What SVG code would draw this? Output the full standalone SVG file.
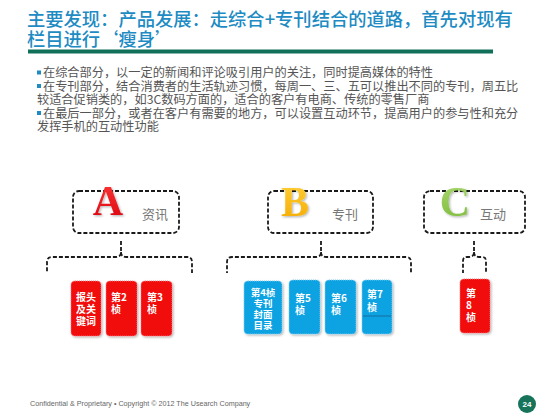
<svg xmlns="http://www.w3.org/2000/svg" width="558" height="419" viewBox="0 0 558 419">
<defs>
<style>
.title{font-family:"Noto Sans CJK SC","Noto Sans",sans-serif;font-size:18.3px;fill:#1E8BC3;font-weight:500}
.body{font-family:"Noto Sans CJK SC","Noto Sans",sans-serif;font-size:12.2px;fill:#555}
.box{fill:#fff;stroke:#1a1a1a;stroke-width:1.8;stroke-dasharray:4 2}
.brace{fill:none;stroke:#1a1a1a;stroke-width:1.8;stroke-dasharray:4 2}
.big{font-family:"Liberation Serif",serif;font-size:42px;font-weight:bold}
.lab{font-family:"Noto Sans CJK SC",sans-serif;font-size:13px;fill:#777}
.red{fill:#F2070D;stroke:#ff8080;stroke-width:1;stroke-dasharray:1 1}
.blue{fill:#0EA3E3;stroke:#7fd0f2;stroke-width:1;stroke-dasharray:1 1}
.ct{font-family:"Noto Sans CJK SC",sans-serif;font-size:10px;font-weight:bold;fill:#fff}
.ct4{font-family:"Noto Sans CJK SC",sans-serif;font-size:9.5px;font-weight:bold;fill:#fff}
.foot{font-family:"Liberation Sans",Arial,sans-serif;font-size:7.2px;fill:#666}
</style>
<linearGradient id="gA" x1="0" y1="0" x2="0" y2="1"><stop offset="0" stop-color="#ff3b3b"/><stop offset="1" stop-color="#d8000a"/></linearGradient>
<linearGradient id="gB" x1="0" y1="0" x2="0" y2="1"><stop offset="0" stop-color="#FFD23A"/><stop offset="1" stop-color="#F5A800"/></linearGradient>
<linearGradient id="gC" x1="0" y1="0" x2="0" y2="1"><stop offset="0" stop-color="#A9D86E"/><stop offset="1" stop-color="#7DBB3A"/></linearGradient>
<filter id="sh" x="-20%" y="-20%" width="140%" height="140%"><feDropShadow dx="1.2" dy="1.2" stdDeviation="0.8" flood-color="#000" flood-opacity="0.3"/></filter>
</defs>
<rect width="558" height="419" fill="#fff"/>

<g id="title">
<text class="title" x="27" y="26">主要发现：产品发展：走综合+专刊结合的道路，首先对现有</text>
<text class="title" x="27" y="45.5">栏目进行‘瘦身’</text>
<rect x="28" y="49.5" width="465" height="4" fill="#11705A"/>
</g>

<g id="bullets">
<rect x="37" y="70.5" width="4" height="4" fill="#1E8BC3"/>
<text class="body" x="43" y="77">在综合部分，以一定的新闻和评论吸引用户的关注，同时提高媒体的特性</text>
<rect x="37" y="84" width="4" height="4" fill="#1E8BC3"/>
<text class="body" x="43" y="90.5">在专刊部分，结合消费者的生活轨迹习惯，每周一、三、五可以推出不同的专刊，周五比</text>
<text class="body" x="37" y="104">较适合促销类的，如3C数码方面的，适合的客户有电商、传统的零售厂商</text>
<rect x="37" y="111" width="4" height="4" fill="#1E8BC3"/>
<text class="body" x="43" y="117.5">在最后一部分，或者在客户有需要的地方，可以设置互动环节，提高用户的参与性和充分</text>
<text class="body" x="37" y="131">发挥手机的互动性功能</text>
</g>

<g id="nodeA">
<rect class="box" x="73" y="191" width="106" height="42" rx="6"/>
<text class="big" x="108" y="215" text-anchor="middle" fill="url(#gA)" filter="url(#sh)">A</text>
<text class="lab" x="142" y="219">资讯</text>
</g>
<g id="nodeB">
<rect class="box" x="268" y="191" width="105" height="42" rx="6"/>
<text class="big" x="295" y="216" text-anchor="middle" fill="url(#gB)" filter="url(#sh)">B</text>
<text class="lab" x="332" y="219">专刊</text>
</g>
<g id="nodeC">
<rect class="box" x="424" y="191" width="101" height="42" rx="6"/>
<text class="big" x="455" y="216" text-anchor="middle" fill="url(#gC)" filter="url(#sh)">C</text>
<text class="lab" x="480" y="219">互动</text>
</g>

<g id="connectors">
<path class="brace" d="M121,241 L121,252 Q121,257 116,257 L52,257 Q47,257 47,262 L47,273 M121,252 Q121,257 126,257 L187,257 Q192,257 192,262 L192,273"/>
<path class="brace" d="M321,241 L321,252 Q321,257 316,257 L232,257 Q227,257 227,262 L227,273 M321,252 Q321,257 326,257 L406,257 Q411,257 411,262 L411,273"/>
<path class="brace" d="M474,241 L474,252 Q474,257 469,257 L467,257 Q463,257 463,261 L463,273 M474,252 Q474,257 479,257 L482,257 Q486,257 486,261 L486,273"/>
</g>

<g id="card1">
<rect class="red" x="71" y="281" width="30" height="55" rx="4" filter="url(#sh)"/>
<text class="ct" x="86" y="301" text-anchor="middle">报头</text>
<text class="ct" x="86" y="313" text-anchor="middle">及关</text>
<text class="ct" x="86" y="325" text-anchor="middle">键词</text>
</g>
<g id="card2">
<rect class="red" x="106" y="281" width="31" height="55" rx="4" filter="url(#sh)"/>
<text class="ct" x="111" y="301">第2</text>
<text class="ct" x="111" y="313">桢</text>
</g>
<g id="card3">
<rect class="red" x="141" y="281" width="31" height="55" rx="4" filter="url(#sh)"/>
<text class="ct" x="147" y="301">第3</text>
<text class="ct" x="147" y="313">桢</text>
</g>
<g id="card4">
<rect class="blue" x="244" y="281" width="38" height="53" rx="4" filter="url(#sh)"/>
<text class="ct4" x="263" y="296" text-anchor="middle">第4桢</text>
<text class="ct4" x="263" y="307" text-anchor="middle">专刊</text>
<text class="ct4" x="263" y="318" text-anchor="middle">封面</text>
<text class="ct4" x="263" y="329" text-anchor="middle">目录</text>
</g>
<g id="card5">
<rect class="blue" x="289" y="280" width="31" height="54" rx="4" filter="url(#sh)"/>
<text class="ct" x="295" y="302">第5</text>
<text class="ct" x="295" y="314">桢</text>
</g>
<g id="card6">
<rect class="blue" x="325" y="280" width="31" height="54" rx="4" filter="url(#sh)"/>
<text class="ct" x="331" y="302">第6</text>
<text class="ct" x="331" y="314">桢</text>
</g>
<g id="card7">
<rect class="blue" x="362" y="280" width="30" height="54" rx="4" filter="url(#sh)"/>
<line x1="363" y1="316" x2="391" y2="316" stroke="#1777A8" stroke-width="1.2"/>
<text class="ct" x="367" y="298">第7</text>
<text class="ct" x="367" y="311">桢</text>
</g>
<g id="card8">
<rect class="red" x="460" y="279" width="30" height="54" rx="4" filter="url(#sh)"/>
<text class="ct" x="466" y="297">第</text>
<text class="ct" x="466" y="309">8</text>
<text class="ct" x="466" y="321">桢</text>
</g>

<g id="footer">
<text class="foot" x="30" y="406">Confidential &amp; Proprietary • Copyright © 2012 The Usearch Company</text>
<circle cx="527" cy="404" r="9" fill="#17745A"/>
<text x="527" y="407" text-anchor="middle" font-family="Liberation Sans,Arial,sans-serif" font-size="8" font-weight="bold" fill="#fff">24</text>
</g>
</svg>
